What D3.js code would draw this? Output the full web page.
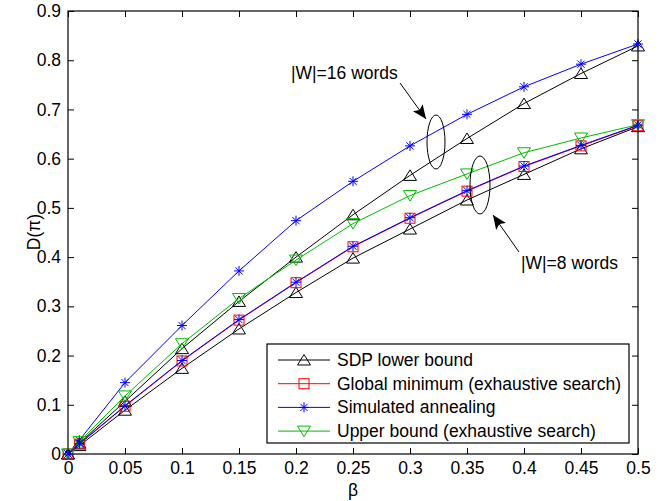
<!DOCTYPE html>
<html>
<head>
<meta charset="utf-8">
<script src="https://cdn.jsdelivr.net/npm/d3@7"></script>
<style>
  body { margin: 0; background: #fff; }
  svg { display: block; }
  text { font-family: "Liberation Sans", Arial, sans-serif; }
</style>
</head>
<body>
<svg id="chart"></svg>
<script>
// data
const beta = [0, 0.01, 0.05, 0.1, 0.15, 0.2, 0.25, 0.3, 0.35, 0.4, 0.45, 0.5];

// |W| = 16 words
const sdp16 = [0, 0.022, 0.107, 0.214, 0.31, 0.4, 0.486, 0.566, 0.641, 0.712, 0.773, 0.829];
const sa16 = [0, 0.028, 0.145, 0.261, 0.372, 0.474, 0.554, 0.626, 0.69, 0.746, 0.792, 0.833];

// |W| = 8 words
const sdp8 = [0, 0.017, 0.089, 0.174, 0.254, 0.328, 0.398, 0.457, 0.516, 0.568, 0.62, 0.665];
const gmin8 = [0, 0.02, 0.097, 0.189, 0.272, 0.348, 0.421, 0.479, 0.534, 0.584, 0.626, 0.667];
const sa8 = [0, 0.021, 0.098, 0.19, 0.273, 0.349, 0.422, 0.48, 0.535, 0.585, 0.627, 0.668];
const ub8 = [0, 0.025, 0.118, 0.224, 0.316, 0.394, 0.468, 0.525, 0.569, 0.612, 0.642, 0.669];

const xTicks = [0, 0.05, 0.1, 0.15, 0.2, 0.25, 0.3, 0.35, 0.4, 0.45, 0.5];
const yTicks = [0, 0.1, 0.2, 0.3, 0.4, 0.5, 0.6, 0.7, 0.8, 0.9];

const legendNames = [
  "SDP lower bound",
  "Global minimum (exhaustive search)",
  "Simulated annealing",
  "Upper bound (exhaustive search)"
];

const width = 667;
const height = 501;
const margin = { top: 11, right: 29, bottom: 47, left: 68 };
const fontSize = 17.5;

const x = d3.scaleLinear()
  .domain([0, 0.5])
  .range([margin.left, width - margin.right]);

const y = d3.scaleLinear()
  .domain([0, 0.9])
  .range([height - margin.bottom, margin.top]);

const svg = d3.select("#chart")
  .attr("width", width)
  .attr("height", height);

// marker shapes (matlab-ish)
function marker(g, type, color) {
  if (type === "tri") {
    g.append("path").attr("d", "M0,-5.5L6.5,5L-6.5,5Z")
      .attr("fill", "none").attr("stroke", color).attr("stroke-width", 1);
  } else if (type === "dtri") {
    g.append("path").attr("d", "M0,5.5L6.5,-5L-6.5,-5Z")
      .attr("fill", "none").attr("stroke", color).attr("stroke-width", 1);
  } else if (type === "square") {
    g.append("rect").attr("x", -5).attr("y", -5).attr("width", 10).attr("height", 10)
      .attr("fill", "none").attr("stroke", color).attr("stroke-width", 1);
  } else if (type === "star") {
    g.append("path").attr("d", "M-5,0H5M0,-5V5M-3.6,-3.6L3.6,3.6M-3.6,3.6L3.6,-3.6")
      .attr("fill", "none").attr("stroke", color).attr("stroke-width", 1);
  }
}

const styles = [
  { color: "#000000", m: "tri" },
  { color: "#ff0000", m: "square" },
  { color: "#0000ff", m: "star" },
  { color: "#00bb00", m: "dtri" }
];

// series drawn in this order
const series = [
  { vals: sdp16, s: 0 },
  { vals: sa16, s: 2 },
  { vals: sdp8, s: 0 },
  { vals: gmin8, s: 1 },
  { vals: ub8, s: 3 },
  { vals: sa8, s: 2 }
];

const line = d3.line()
  .x((d, i) => x(beta[i]))
  .y(d => y(d));

// axes with inward ticks on all four sides
const styleAxis = g => {
  g.selectAll("text").attr("font-size", fontSize).attr("fill", "#000")
    .attr("font-family", "Liberation Sans, Arial, sans-serif");
  g.selectAll("line").attr("stroke", "#000");
  g.select(".domain").remove();
};

svg.append("g")
  .attr("transform", `translate(0,${height - margin.bottom})`)
  .call(d3.axisBottom(x).tickValues(xTicks).tickSize(-6).tickPadding(8)
    .tickFormat(d => d3.format("")(d)))
  .call(styleAxis);

svg.append("g")
  .attr("transform", `translate(0,${margin.top})`)
  .call(d3.axisTop(x).tickValues(xTicks).tickSize(-6).tickFormat(""))
  .call(styleAxis);

svg.append("g")
  .attr("transform", `translate(${margin.left},0)`)
  .call(d3.axisLeft(y).tickValues(yTicks).tickSize(-6).tickPadding(7)
    .tickFormat(d => d3.format("")(d)))
  .call(styleAxis);

svg.append("g")
  .attr("transform", `translate(${width - margin.right},0)`)
  .call(d3.axisRight(y).tickValues(yTicks).tickSize(-6).tickFormat(""))
  .call(styleAxis);

svg.append("rect")
  .attr("x", margin.left)
  .attr("y", margin.top)
  .attr("width", width - margin.left - margin.right)
  .attr("height", height - margin.top - margin.bottom)
  .attr("fill", "none")
  .attr("stroke", "#000")
  .attr("stroke-width", 1.2);

// lines then markers
series.forEach(({ vals, s }) => {
  const st = styles[s];
  svg.append("path")
    .datum(vals)
    .attr("fill", "none")
    .attr("stroke", st.color)
    .attr("stroke-width", 1)
    .attr("d", line);
  vals.forEach((v, i) => {
    const g = svg.append("g").attr("transform", `translate(${x(beta[i])},${y(v)})`);
    marker(g, st.m, st.color);
  });
});

// axis titles
svg.append("text")
  .attr("x", (margin.left + width - margin.right) / 2)
  .attr("y", 496)
  .attr("text-anchor", "middle")
  .attr("font-size", fontSize)
  .text("β");

svg.append("text")
  .attr("transform", "translate(40,232) rotate(-90)")
  .attr("text-anchor", "middle")
  .attr("font-size", fontSize)
  .text("D(π)");

// annotations: ellipses, arrows, labels
svg.append("defs").append("marker")
  .attr("id", "head")
  .attr("viewBox", "0 0 14 12")
  .attr("refX", 14).attr("refY", 6)
  .attr("markerWidth", 14).attr("markerHeight", 12)
  .attr("markerUnits", "userSpaceOnUse")
  .attr("orient", "auto")
  .append("path").attr("d", "M0,0L14,6L0,12L3,6Z").attr("fill", "#000");

svg.append("ellipse")
  .attr("cx", 436).attr("cy", 142).attr("rx", 9).attr("ry", 27)
  .attr("fill", "none").attr("stroke", "#000").attr("stroke-width", 1);
svg.append("ellipse")
  .attr("cx", 480).attr("cy", 185).attr("rx", 10).attr("ry", 29)
  .attr("fill", "none").attr("stroke", "#000").attr("stroke-width", 1);

svg.append("line")
  .attr("x1", 400).attr("y1", 83).attr("x2", 426).attr("y2", 119)
  .attr("stroke", "#000").attr("stroke-width", 1)
  .attr("marker-end", "url(#head)");
svg.append("line")
  .attr("x1", 519).attr("y1", 252).attr("x2", 493).attr("y2", 215)
  .attr("stroke", "#000").attr("stroke-width", 1)
  .attr("marker-end", "url(#head)");

svg.append("text")
  .attr("x", 291).attr("y", 79)
  .attr("font-size", fontSize)
  .text("|W|=16 words");
svg.append("text")
  .attr("x", 521).attr("y", 269)
  .attr("font-size", fontSize)
  .text("|W|=8 words");

// legend
const lg = svg.append("g");
lg.append("rect")
  .attr("x", 267).attr("y", 344).attr("width", 362).attr("height", 99)
  .attr("fill", "#fff").attr("stroke", "#000").attr("stroke-width", 1.2);

legendNames.forEach((name, i) => {
  const st = styles[i];
  const ly = 360 + i * 23.7;
  lg.append("line")
    .attr("x1", 278).attr("x2", 330).attr("y1", ly).attr("y2", ly)
    .attr("stroke", st.color).attr("stroke-width", 1);
  marker(lg.append("g").attr("transform", `translate(304,${ly})`), st.m, st.color);
  lg.append("text")
    .attr("x", 337).attr("y", ly + 6)
    .attr("font-size", fontSize)
    .text(name);
});
</script>
</body>
</html>
